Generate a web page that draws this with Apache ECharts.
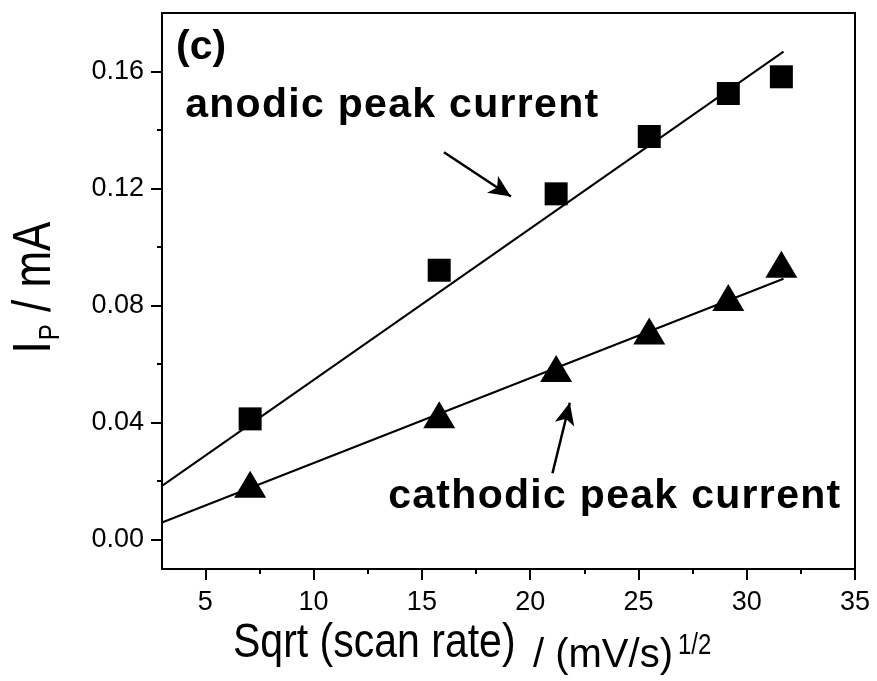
<!DOCTYPE html>
<html>
<head>
<meta charset="utf-8">
<script src="https://cdn.jsdelivr.net/npm/echarts@6/dist/echarts.min.js"></script>
<style>
  html, body { margin: 0; padding: 0; background: #fff; }
  #chart { width: 877px; height: 681px; }
</style>
</head>
<body>
<div id="chart"></div>
<script>
// Peak currents vs. square root of scan rate
const sqrtScanRate = [7.07, 15.8, 21.2, 25.5, 29.15, 31.6];
const anodicPeak = [0.0413, 0.0921, 0.1182, 0.1378, 0.1525, 0.1582];
const cathodicPeak = [0.0190, 0.0427, 0.0585, 0.0713, 0.0828, 0.0941];

// Linear fit lines (end points)
const fitRange = [3, 31.7];
const anodicFit = [0.0184, 0.1668];
const cathodicFit = [0.0059, 0.0892];

// Axis ticks
const xTicks = [5, 10, 15, 20, 25, 30, 35];
const xMinorTicks = [7.5, 12.5, 17.5, 22.5, 27.5, 32.5];
const yTicks = [0, 0.04, 0.08, 0.12, 0.16];
const yMinorTicks = [0.02, 0.06, 0.10, 0.14];

// Annotation arrows: [tail, head] in data coordinates
const anodicArrow = [[16.02, 0.1324], [19.11, 0.1173]];
const cathodicArrow = [[21.03, 0.0227], [21.83, 0.0468]];

const FONT = "'Liberation Sans', Arial, sans-serif";
const BLACK = '#000';

function zip(xs, ys) { return xs.map((x, i) => [x, ys[i]]); }
// letter-spaced bold label built from rich-text fragments
function spaced(str, key) {
  return str.split('').map(ch => '{' + key + '|' + ch + '}').join('');
}

const chart = echarts.init(document.getElementById('chart'));

const tickLine = { color: BLACK, width: 2 };

const option = {
  animation: false,
  backgroundColor: '#fff',
  grid: {
    left: 162, right: 22, top: 13, bottom: 112,
    show: true, borderColor: BLACK, borderWidth: 2, backgroundColor: 'transparent'
  },
  xAxis: [
    {
      type: 'value', min: 3, max: 35, position: 'bottom',
      axisLine: { show: true, onZero: false, lineStyle: { color: BLACK, width: 2 } },
      axisTick: { show: true, inside: false, length: 11, customValues: xTicks, lineStyle: tickLine },
      axisLabel: { customValues: xTicks, fontSize: 27, color: BLACK, fontFamily: FONT, margin: 20 },
      splitLine: { show: false }
    },
    {
      // minor ticks
      type: 'value', min: 3, max: 35, position: 'bottom',
      axisLine: { show: false, onZero: false },
      axisTick: { show: true, inside: false, length: 5, customValues: xMinorTicks, lineStyle: tickLine },
      axisLabel: { show: false },
      splitLine: { show: false }
    }
  ],
  yAxis: [
    {
      type: 'value', min: -0.01, max: 0.18, position: 'left',
      axisLine: { show: true, onZero: false, lineStyle: { color: BLACK, width: 2 } },
      axisTick: { show: true, inside: false, length: 11, customValues: yTicks, lineStyle: tickLine },
      axisLabel: {
        customValues: yTicks, fontSize: 27, color: BLACK, fontFamily: FONT, margin: 18,
        formatter: v => v.toFixed(2)
      },
      splitLine: { show: false }
    },
    {
      // minor ticks
      type: 'value', min: -0.01, max: 0.18, position: 'left',
      axisLine: { show: false, onZero: false },
      axisTick: { show: true, inside: false, length: 5, customValues: yMinorTicks, lineStyle: tickLine },
      axisLabel: { show: false },
      splitLine: { show: false }
    }
  ],
  series: [
    {
      name: 'anodic fit', type: 'line', xAxisIndex: 0, yAxisIndex: 0,
      data: zip(fitRange, anodicFit), showSymbol: false, symbol: 'none',
      lineStyle: { color: BLACK, width: 2 }, z: 2,
      markLine: {
        silent: true, animation: false,
        symbol: ['none', 'arrow'], symbolSize: [15, 22],
        lineStyle: { color: BLACK, width: 2.5, type: 'solid', opacity: 1 },
        itemStyle: { color: BLACK },
        label: { show: false },
        data: [
          [{ coord: anodicArrow[0] }, { coord: anodicArrow[1] }],
          [{ coord: cathodicArrow[0] }, { coord: cathodicArrow[1] }]
        ]
      }
    },
    {
      name: 'cathodic fit', type: 'line', xAxisIndex: 0, yAxisIndex: 0,
      data: zip(fitRange, cathodicFit), showSymbol: false, symbol: 'none',
      lineStyle: { color: BLACK, width: 2 }, z: 2
    },
    {
      name: 'anodic peak current', type: 'scatter', xAxisIndex: 0, yAxisIndex: 0,
      data: zip(sqrtScanRate, anodicPeak),
      symbol: 'rect', symbolSize: 23, itemStyle: { color: BLACK, opacity: 1 }, z: 3
    },
    {
      name: 'cathodic peak current', type: 'scatter', xAxisIndex: 0, yAxisIndex: 0,
      data: zip(sqrtScanRate, cathodicPeak),
      symbol: 'triangle', symbolSize: [32, 27], itemStyle: { color: BLACK, opacity: 1 }, z: 3
    }
  ],
  graphic: [
    {
      type: 'text', x: 176, y: 48, z: 10,
      style: { text: '(c)', font: 'bold 41px ' + FONT, fill: BLACK, align: 'left', verticalAlign: 'middle' }
    },
    {
      type: 'text', x: 184.5, y: 105.5, z: 10,
      style: {
        text: spaced('anodic peak current', 'k'), align: 'left', verticalAlign: 'middle',
        rich: { k: { fontSize: 41, fontWeight: 'bold', fontFamily: FONT, fill: BLACK, padding: [0, 0.65, 0, 0.65] } }
      }
    },
    {
      type: 'text', x: 387.5, y: 496.5, z: 10,
      style: {
        text: spaced('cathodic peak current', 'k'), align: 'left', verticalAlign: 'middle',
        rich: { k: { fontSize: 41, fontWeight: 'bold', fontFamily: FONT, fill: BLACK, padding: [0, 0.65, 0, 0.65] } }
      }
    },
    // x-axis title
    {
      type: 'text', x: 233, y: 643.5, scaleY: 1.15, z: 10,
      style: { text: 'Sqrt (scan rate)', font: '41px ' + FONT, fill: BLACK, align: 'left', verticalAlign: 'middle' }
    },
    {
      type: 'text', x: 533, y: 656, z: 10,
      style: { text: '/ (mV/s)', font: '40px ' + FONT, fill: BLACK, align: 'left', verticalAlign: 'middle' }
    },
    {
      type: 'text', x: 678, y: 646, scaleY: 1.25, z: 10,
      style: { text: '1/2', font: '24px ' + FONT, fill: BLACK, align: 'left', verticalAlign: 'middle' }
    },
    // y-axis title
    {
      type: 'text', x: 35, y: 287.5, rotation: Math.PI / 2, scaleY: 1.2, z: 10,
      style: {
        text: '{a|I}{p|P}{a| / mA}', align: 'center', verticalAlign: 'middle',
        rich: {
          a: { fontSize: 44, fontFamily: FONT, fill: BLACK, lineHeight: 44, verticalAlign: 'top' },
          p: { fontSize: 24, fontFamily: FONT, fill: BLACK, lineHeight: 24, verticalAlign: 'top', padding: [23, 0, 0, 1] }
        }
      }
    }
  ]
};

chart.setOption(option);
</script>
</body>
</html>
